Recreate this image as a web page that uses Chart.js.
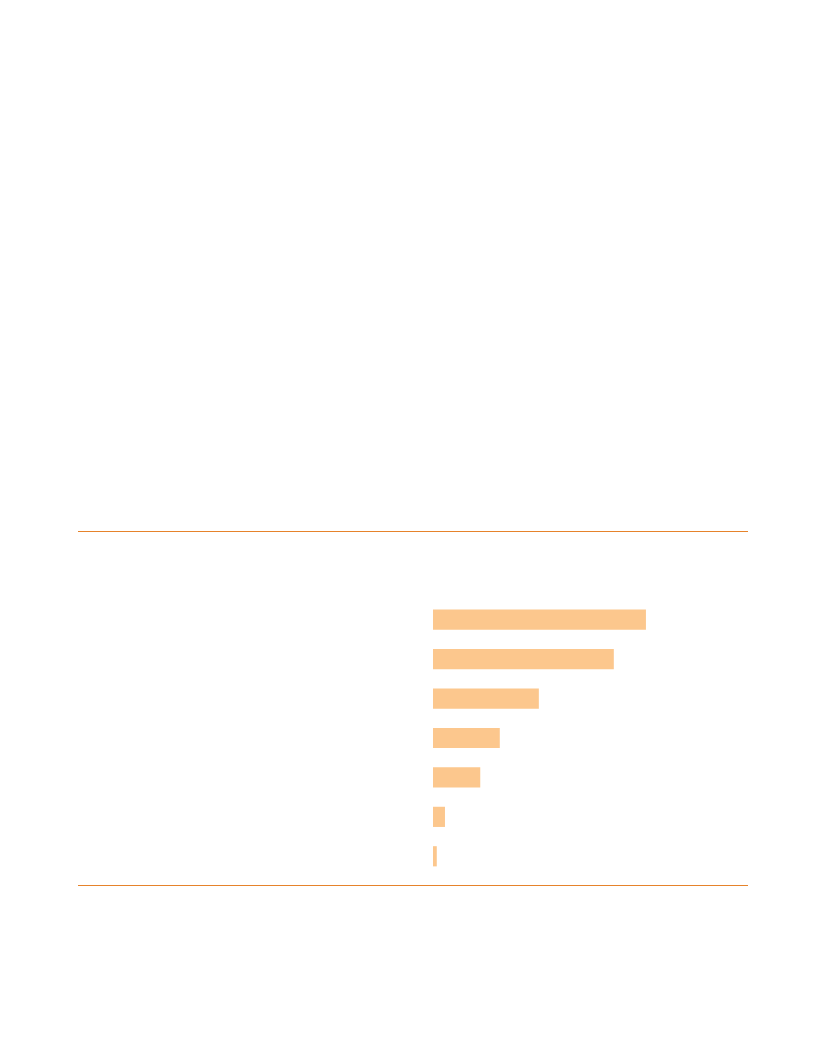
<!DOCTYPE html>
<html>
<head>
<meta charset="utf-8">
<script src="https://cdn.jsdelivr.net/npm/chart.js@4"></script>
<style>
  html, body { margin: 0; padding: 0; background: #fff; }
  .frame {
    position: absolute; left: 78px; top: 531px; width: 670px; height: 353px;
    border-top: 1px solid #e6832b; border-bottom: 1px solid #e6832b;
  }
  canvas { display: block; }
</style>
</head>
<body>
<div class="frame"><canvas id="bars" width="670" height="353"></canvas></div>
<script>
const categories = ["1", "2", "3", "4", "5", "6", "7"];
const values = [33.8, 28.7, 16.8, 10.6, 7.5, 1.9, 0.6];
const axisMax = 50;

new Chart(document.getElementById("bars"), {
  type: "bar",
  data: {
    labels: categories,
    datasets: [{ data: values, backgroundColor: "#fcc78d", borderWidth: 0, categoryPercentage: 0.8, barPercentage: 0.64 }]
  },
  options: {
    indexAxis: "y",
    responsive: false,
    animation: false,
    layout: { padding: { left: 355, top: 68, bottom: 9, right: 0 } },
    plugins: { legend: { display: false }, tooltip: { enabled: false } },
    scales: {
      x: { display: false, min: 0, max: axisMax },
      y: { display: false }
    }
  }
});
</script>
</body>
</html>
